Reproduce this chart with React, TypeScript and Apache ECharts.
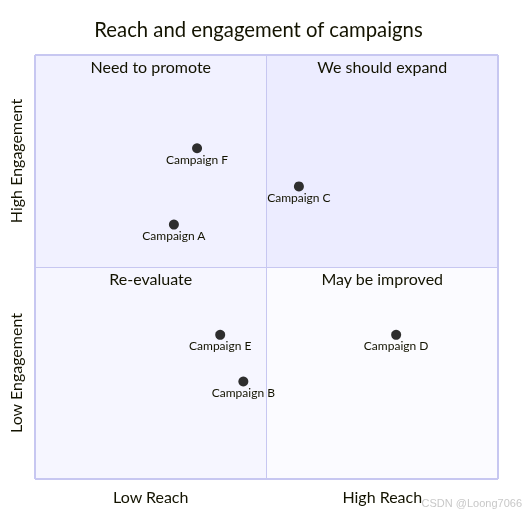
import React, { useEffect, useRef } from "react";
import * as echarts from "echarts";

const TITLE = "Reach and engagement of campaigns";
const X_AXIS_LABELS = ["Low Reach", "High Reach"];
const Y_AXIS_LABELS = ["Low Engagement", "High Engagement"];
const QUADRANT_NAMES = ["We should expand", "Need to promote", "Re-evaluate", "May be improved"];
const QUADRANT_FILLS = ["#ECECFF", "#F1F1FF", "#F6F6FF", "#FBFBFF"];
const POINT_NAMES = ["Campaign A", "Campaign B", "Campaign C", "Campaign D", "Campaign E", "Campaign F"];
const POINT_REACH = [0.3, 0.45, 0.57, 0.78, 0.4, 0.35];
const POINT_ENGAGEMENT = [0.6, 0.23, 0.69, 0.34, 0.34, 0.78];

const FONT = "Lato";
const TEXT = "#131300";
const BORDER = "#C7C7F1";

export default function App() {
  const ref = useRef<HTMLDivElement>(null);
  useEffect(() => {
    const chart = echarts.init(ref.current!, null, { renderer: "svg" });
    const quadrantRanges = [
      [[0.5, 0.5], [1, 1]],
      [[0, 0.5], [0.5, 1]],
      [[0, 0], [0.5, 0.5]],
      [[0.5, 0], [1, 0.5]],
    ];
    const areas = quadrantRanges.map((r, i) => [
      {
        name: QUADRANT_NAMES[i],
        coord: r[0],
        itemStyle: { color: QUADRANT_FILLS[i] },
        label: {
          show: true,
          position: "insideTop",
          distance: 3,
          color: TEXT,
          fontFamily: FONT,
          fontSize: 16,
        },
      },
      { coord: r[1] },
    ]);
    chart.setOption({
      animation: false,
      title: {
        text: TITLE,
        left: 253.5,
        top: 14,
        textAlign: "center",
        textStyle: { color: TEXT, fontFamily: FONT, fontSize: 20.3, fontWeight: "normal" },
      },
      grid: { left: 35, top: 55, width: 463, height: 424, show: false },
      xAxis: [
        { type: "value", min: 0, max: 1, show: false },
        {
          type: "category",
          data: X_AXIS_LABELS,
          position: "bottom",
          axisLine: { show: false },
          axisTick: { show: false },
          splitLine: { show: false },
          axisLabel: { color: TEXT, fontFamily: FONT, fontSize: 16, margin: 9 },
        },
      ],
      yAxis: [
        { type: "value", min: 0, max: 1, show: false },
        {
          type: "category",
          data: Y_AXIS_LABELS,
          position: "left",
          axisLine: { show: false },
          axisTick: { show: false },
          splitLine: { show: false },
          axisLabel: {
            color: TEXT,
            fontFamily: FONT,
            fontSize: 16,
            rotate: 90,
            margin: 20,
            align: "center",
            verticalAlign: "middle",
          },
        },
      ],
      graphic: [
        {
          type: "text",
          right: 6,
          top: 497,
          style: { text: "CSDN @Loong7066", fill: "#C8C8C8", fontSize: 11, fontFamily: "Liberation Sans" },
        },
      ],
      series: [
        {
          type: "scatter",
          xAxisIndex: 0,
          yAxisIndex: 0,
          symbolSize: 10,
          itemStyle: { color: "#2E2E2E", opacity: 1 },
          data: POINT_NAMES.map((n, i) => ({ name: n, value: [POINT_REACH[i], POINT_ENGAGEMENT[i]] })),
          label: {
            show: true,
            position: "bottom",
            distance: 0,
            formatter: "{b}",
            color: TEXT,
            fontFamily: FONT,
            fontSize: 12,
          },
          markArea: { silent: true, data: areas },
          markLine: {
            silent: true,
            symbol: "none",
            label: { show: false },
            data: [
              { xAxis: 0.5, lineStyle: { color: BORDER, width: 1, type: "solid" } },
              { yAxis: 0.5, lineStyle: { color: BORDER, width: 1, type: "solid" } },
              { xAxis: 0, lineStyle: { color: BORDER, width: 2, type: "solid" } },
              { xAxis: 1, lineStyle: { color: BORDER, width: 2, type: "solid" } },
              { yAxis: 0, lineStyle: { color: BORDER, width: 2, type: "solid" } },
              { yAxis: 1, lineStyle: { color: BORDER, width: 2, type: "solid" } },
            ],
          },
        },
      ],
    });
    return () => chart.dispose();
  }, []);
  return <div ref={ref} style={{ position: "fixed", left: 0, top: 0, width: 528, height: 514 }} />;
}
